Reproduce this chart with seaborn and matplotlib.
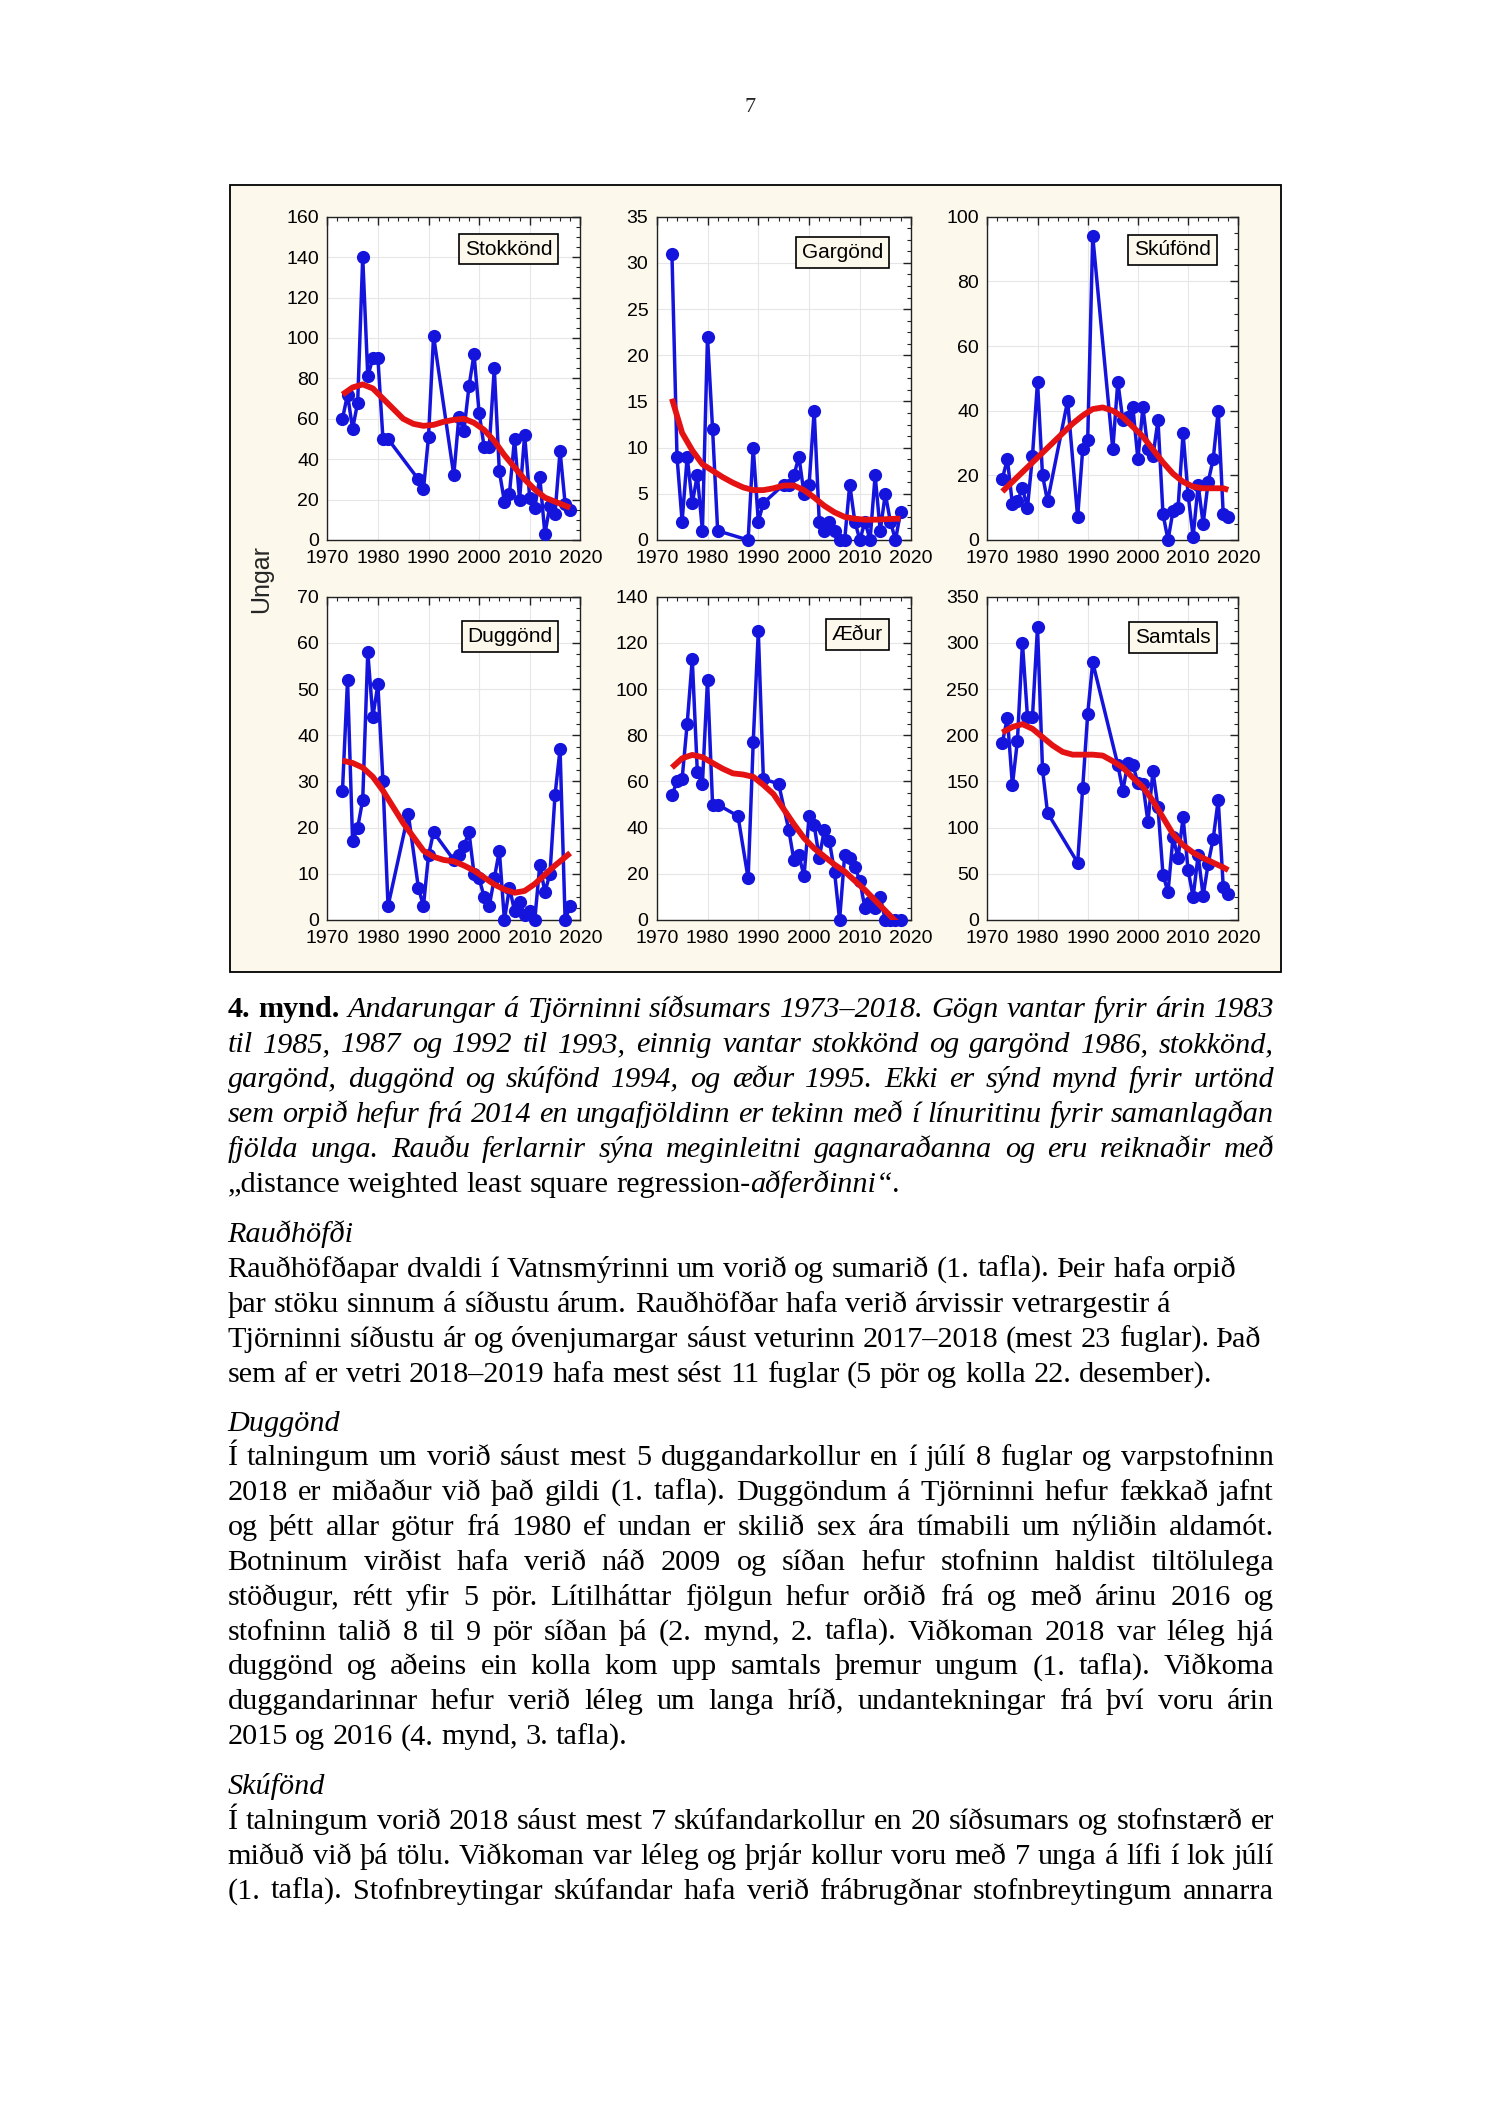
import matplotlib
matplotlib.use("Agg")
import matplotlib.pyplot as plt
import seaborn as sns
from matplotlib.patches import Rectangle
from matplotlib.ticker import MultipleLocator, AutoMinorLocator

# ---------------- data ----------------
years_sg = [1973, 1974, 1975, 1976, 1977, 1978, 1979, 1980, 1981, 1982,
            1988, 1989, 1990, 1991,
            1995, 1996, 1997, 1998, 1999, 2000, 2001, 2002, 2003, 2004, 2005, 2006,
            2007, 2008, 2009, 2010, 2011, 2012, 2013, 2014, 2015, 2016, 2017, 2018]
years_sd = [1973, 1974, 1975, 1976, 1977, 1978, 1979, 1980, 1981, 1982,
            1986, 1988, 1989, 1990, 1991,
            1995, 1996, 1997, 1998, 1999, 2000, 2001, 2002, 2003, 2004, 2005, 2006,
            2007, 2008, 2009, 2010, 2011, 2012, 2013, 2014, 2015, 2016, 2017, 2018]
years_ae = [1973, 1974, 1975, 1976, 1977, 1978, 1979, 1980, 1981, 1982,
            1986, 1988, 1989, 1990, 1991, 1994,
            1996, 1997, 1998, 1999, 2000, 2001, 2002, 2003, 2004, 2005, 2006,
            2007, 2008, 2009, 2010, 2011, 2012, 2013, 2014, 2015, 2016, 2017, 2018]
years_tot = [1973, 1974, 1975, 1976, 1977, 1978, 1979, 1980, 1981, 1982,
             1988, 1989, 1990, 1991,
             1996, 1997, 1998, 1999, 2000, 2001, 2002, 2003, 2004, 2005, 2006,
             2007, 2008, 2009, 2010, 2011, 2012, 2013, 2014, 2015, 2016, 2017, 2018]

stokkond = [60, 72, 55, 68, 140, 81, 90, 90, 50, 50,
            30, 25, 51, 101,
            32, 61, 54, 76, 92, 63, 46, 46, 85, 34, 19, 23,
            50, 20, 52, 21, 16, 31, 3, 17, 13, 44, 18, 15]
gargond = [31, 9, 2, 9, 4, 7, 1, 22, 12, 1,
           0, 10, 2, 4,
           6, 6, 7, 9, 5, 6, 14, 2, 1, 2, 1, 0,
           0, 6, 2, 0, 2, 0, 7, 1, 5, 2, 0, 3]
skufond = [19, 25, 11, 12, 16, 10, 26, 49, 20, 12,
           43, 7, 28, 31, 94,
           28, 49, 37, 38, 41, 25, 41, 28, 26, 37, 8, 0,
           9, 10, 33, 14, 1, 17, 5, 18, 25, 40, 8, 7]
duggond = [28, 52, 17, 20, 26, 58, 44, 51, 30, 3,
           23, 7, 3, 14, 19,
           13, 14, 16, 19, 10, 9, 5, 3, 9, 15, 0, 7,
           2, 4, 1, 2, 0, 12, 6, 10, 27, 37, 0, 3]
aedur = [54, 60, 61, 85, 113, 64, 59, 104, 50, 50,
         45, 18, 77, 125, 61, 59,
         39, 26, 28, 19, 45, 41, 27, 39, 34, 21, 0,
         28, 27, 23, 17, 5, 8, 5, 10, 0, 0, 0, 0]
samtals = [192, 219, 146, 194, 300, 220, 220, 317, 163, 116,
           62, 143, 223, 279,
           168, 140, 170, 168, 148, 147, 106, 161, 122, 49, 30,
           90, 67, 111, 54, 25, 70, 26, 61, 88, 130, 36, 28]

# red DWLS trend curves
trend_years = [1973, 1975, 1977, 1979, 1981, 1983, 1985, 1987, 1989, 1991, 1993, 1995,
               1997, 1999, 2001, 2003, 2005, 2007, 2009, 2011, 2013, 2015, 2017, 2018]
tr_stokkond = [72, 75.5, 77, 75, 70, 65, 60, 57.5, 56.5, 57, 58.5, 59.5,
               60, 58, 54.5, 49, 42, 36, 30, 25, 21, 19, 17, 16]
tr_gargond = [15.3, 11.6, 9.7, 8.2, 7.5, 6.8, 6.2, 5.7, 5.4, 5.4, 5.6, 5.9,
              5.9, 5.4, 4.6, 3.7, 3.0, 2.5, 2.3, 2.2, 2.2, 2.25, 2.3, 2.3]
tr_skufond = [15, 18, 21, 24, 27, 30, 33, 36, 38.5, 40.5, 41, 40,
              38, 35, 32, 28, 24, 20.5, 18, 16.5, 16, 16, 16, 15.5]
tr_duggond = [34.5, 34, 33, 31, 28, 24.5, 21, 18, 15, 13.7, 13, 12.7,
              11.8, 10.7, 9.2, 7.7, 6.6, 5.9, 6.3, 7.8, 9.8, 11.8, 13.6, 14.5]
tr_aedur = [66, 70, 71.5, 70.5, 68, 65.5, 63.5, 63, 62, 58.5, 54.5, 48,
            41.5, 35.5, 31, 27.5, 24, 21, 17, 13, 8.5, 4, -0.5, -2]
tr_samtals = [203, 209, 212, 207, 198, 189, 182, 179, 179, 179, 178, 172,
              165, 154, 144, 129, 111, 93, 81, 73, 67, 62, 57, 54]

panel_names = ["Stokkönd", "Gargönd", "Skúfönd", "Duggönd", "Æður", "Samtals"]
panel_years = [years_sg, years_sg, years_sd, years_sd, years_ae, years_tot]
panel_values = [stokkond, gargond, skufond, duggond, aedur, samtals]
panel_trends = [tr_stokkond, tr_gargond, tr_skufond, tr_duggond, tr_aedur, tr_samtals]
panel_ymax = [160, 35, 100, 70, 140, 350]
panel_ystep = [20, 5, 20, 10, 20, 50]

# ---------------- page text ----------------
# '*' toggles italic, '#' toggles bold
caption = [
    "#4. mynd.# *Andarungar á Tjörninni síðsumars 1973–2018. Gögn vantar fyrir árin 1983*",
    "*til 1985, 1987 og 1992 til 1993, einnig vantar stokkönd og gargönd 1986, stokkönd,*",
    "*gargönd, duggönd og skúfönd 1994, og æður 1995. Ekki er sýnd mynd fyrir urtönd*",
    "*sem orpið hefur frá 2014 en ungafjöldinn er tekinn með í línuritinu fyrir samanlagðan*",
    "*fjölda unga. Rauðu ferlarnir sýna meginleitni gagnaraðanna og eru reiknaðir með*",
    "„distance weighted least square regression-*aðferðinni“.*",
]
raudhofdi = [
    "Rauðhöfðapar dvaldi í Vatnsmýrinni um vorið og sumarið (1. tafla). Þeir hafa orpið",
    "þar stöku sinnum á síðustu árum. Rauðhöfðar hafa verið árvissir vetrargestir á",
    "Tjörninni síðustu ár og óvenjumargar sáust veturinn 2017–2018 (mest 23 fuglar). Það",
    "sem af er vetri 2018–2019 hafa mest sést 11 fuglar (5 pör og kolla 22. desember).",
]
duggond_txt = [
    "Í talningum um vorið sáust mest 5 duggandarkollur en í júlí 8 fuglar og varpstofninn",
    "2018 er miðaður við það gildi (1. tafla).  Duggöndum á Tjörninni hefur fækkað jafnt",
    "og þétt allar götur frá 1980 ef undan er skilið sex ára tímabili um nýliðin aldamót.",
    "Botninum virðist hafa verið náð 2009 og síðan hefur stofninn haldist tiltölulega",
    "stöðugur, rétt yfir 5 pör. Lítilháttar fjölgun hefur orðið frá og með árinu 2016 og",
    "stofninn talið 8 til 9 pör síðan þá (2. mynd, 2. tafla). Viðkoman 2018 var léleg hjá",
    "duggönd og aðeins ein kolla kom upp samtals þremur ungum (1. tafla). Viðkoma",
    "duggandarinnar hefur verið léleg um langa hríð, undantekningar frá því voru árin",
    "2015 og 2016 (4. mynd, 3. tafla).",
]
skufond_txt = [
    "Í talningum vorið 2018 sáust mest 7 skúfandarkollur en 20 síðsumars og stofnstærð er",
    "miðuð við þá tölu. Viðkoman var léleg og þrjár kollur voru með 7 unga á lífi í lok júlí",
    "(1. tafla). Stofnbreytingar skúfandar hafa verið frábrugðnar stofnbreytingum annarra",
]

# ---------------- figure ----------------
W, H = 1500, 2123
sns.set_theme(style="white")
plt.rcParams["font.family"] = ["Liberation Sans", "DejaVu Sans"]

fig = plt.figure(figsize=(W / 100, H / 100), dpi=100)
fig.patch.set_facecolor("white")

BLUE = "#1414dc"
RED = "#e41212"
CREAM = "#fcf8ec"


def px_box(l, t, r, b):
    return [l / W, 1 - b / H, (r - l) / W, (b - t) / H]


# chart frame (behind the axes)
fig.patches.append(Rectangle((230 / W, 1 - 972 / H), (1281 - 230) / W, (972 - 185) / H,
                             transform=fig.transFigure, facecolor=CREAM,
                             edgecolor="black", linewidth=1.3, zorder=-5))

cols = [(327.3, 580.3), (656.7, 910.7), (987.3, 1238.3)]
rows = [(216.7, 540.0), (596.7, 920.0)]
label_y = [0.9, 0.89, 0.897, 0.876, 0.884, 0.874]

for i, name in enumerate(panel_names):
    l, r = cols[i % 3]
    t, b = rows[i // 3]
    ax = fig.add_axes(px_box(l, t, r, b))
    ax.set_zorder(1)
    ax.set_facecolor("white")
    ax.set_axisbelow(True)
    ax.grid(True, color="#e6e6e6", linewidth=0.8)

    sns.lineplot(x=panel_years[i], y=panel_values[i], ax=ax, color=BLUE, linewidth=2.5,
                 marker="o", markersize=9.5, markeredgewidth=0, clip_on=False, zorder=3)
    sns.lineplot(x=trend_years, y=panel_trends[i], ax=ax, color=RED, linewidth=4.2,
                 zorder=4, solid_capstyle="butt")

    ax.set_xlim(1970, 2020)
    ax.set_ylim(0, panel_ymax[i])
    ax.xaxis.set_major_locator(MultipleLocator(10))
    ax.xaxis.set_minor_locator(MultipleLocator(2))
    ax.yaxis.set_major_locator(MultipleLocator(panel_ystep[i]))
    ax.yaxis.set_minor_locator(AutoMinorLocator(4))
    ax.tick_params(which="both", direction="in", top=True, right=True, colors="#222222",
                   labelcolor="black")
    ax.tick_params(which="major", length=6, width=1.0, labelsize=14)
    ax.tick_params(which="minor", length=3, width=0.8)
    ax.tick_params(axis="x", pad=7)
    ax.tick_params(axis="y", pad=6)
    ax.set_xlabel("")
    ax.set_ylabel("")
    for sp in ax.spines.values():
        sp.set_color("#222222")
        sp.set_linewidth(1.0)

    ax.text(0.89, label_y[i], name, transform=ax.transAxes, ha="right", va="center",
            fontsize=15, color="black", zorder=6,
            bbox=dict(boxstyle="square,pad=0.28", facecolor=CREAM, edgecolor="black",
                      linewidth=1.2))

fig.text(261 / W, 1 - 579 / H, "Ungar", rotation=90, ha="center", va="center",
         fontsize=18, zorder=2)

# page number
fig.text(750 / W, 1 - 112 / H, "7", ha="center", va="baseline", fontsize=16,
         family="Liberation Serif")

# ---------------- justified page text ----------------
renderer = fig.canvas.get_renderer()
SERIF = "Liberation Serif"
STYLE = {"n": dict(style="normal", weight="normal"),
         "i": dict(style="italic", weight="normal"),
         "b": dict(style="normal", weight="bold")}
LEFT, RIGHT = 227.5, 1274.0


def parse(line):
    words, pieces, buf = [], [], ""
    italic = False
    bold = False

    def cur():
        return "b" if bold else ("i" if italic else "n")

    for ch in line:
        if ch in "*#":
            if buf:
                pieces.append((buf, cur()))
                buf = ""
            if ch == "*":
                italic = not italic
            else:
                bold = not bold
        elif ch == " ":
            if buf:
                pieces.append((buf, cur()))
                buf = ""
            if pieces:
                words.append(pieces)
                pieces = []
        else:
            buf += ch
    if buf:
        pieces.append((buf, cur()))
    if pieces:
        words.append(pieces)
    return words


def piece_w(txt, st, size):
    t = fig.text(0, 0, txt, fontsize=size, family=SERIF, **STYLE[st])
    w = t.get_window_extent(renderer).width
    t.remove()
    return w


def space_w(size):
    return piece_w("n n", "n", size) - piece_w("nn", "n", size)


def natural_width(words, size):
    ws = sum(piece_w(p, s, size) for wd in words for p, s in wd)
    return ws + space_w(size) * (len(words) - 1)


# (lines, first baseline px, justified flags, ragged right ends in px used for sizing)
blocks = [
    (caption, 1017, [True] * 5 + [False], [None] * 6),
    (["*Rauðhöfði*"], 1242, [False], [None]),
    (raudhofdi, 1277, [False] * 4, [1237, 1186, 1273, 1273]),
    (["*Duggönd*"], 1431, [False], [None]),
    (duggond_txt, 1465, [True] * 8 + [False], [None] * 9),
    (["*Skúfönd*"], 1794, [False], [None]),
    (skufond_txt, 1829, [True] * 3, [None] * 3),
]
STEP = 34.9

base = 20.0
ratios = []
for lines, _, just, ends in blocks:
    for ln, j, e in zip(lines, just, ends):
        wds = parse(ln)
        nat = natural_width(wds, base)
        if j:
            ratios.append((RIGHT - LEFT) / nat)
        elif e is not None:
            ratios.append((e - LEFT) / nat)
size = base * min(ratios)
sp = space_w(size)

for lines, y0, just, ends in blocks:
    for k, (ln, j) in enumerate(zip(lines, just)):
        wds = parse(ln)
        widths = [[piece_w(p, s, size) for p, s in wd] for wd in wds]
        total = sum(sum(w) for w in widths)
        gap = sp
        if j and len(wds) > 1:
            gap = (RIGHT - LEFT - total) / (len(wds) - 1)
        x = LEFT
        yb = y0 + k * STEP
        for wd, wl in zip(wds, widths):
            for (p, s), w in zip(wd, wl):
                fig.text(x / W, 1 - yb / H, p, fontsize=size, family=SERIF,
                         ha="left", va="baseline", color="black", **STYLE[s])
                x += w
            x += gap

fig.savefig("out.png", dpi=100, facecolor="white")
